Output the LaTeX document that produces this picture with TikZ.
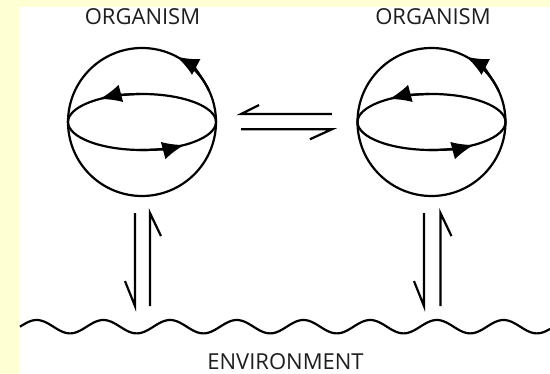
\documentclass[tikz,border=0pt]{standalone}
\usepackage{fontspec}
\setmainfont{Open Sans}
\usetikzlibrary{arrows.meta}
\definecolor{bgyellow}{HTML}{FFFFD4}
\definecolor{txtgray}{HTML}{1E1E1E}
\tikzset{
  ln/.style={line width=2.2pt, black},
  orb/.style={circle, draw, line width=2.2pt, minimum size=148pt, inner sep=0pt},
  lbl/.style={font=\fontsize{22}{24}\selectfont, text=txtgray, inner sep=0pt},
  tip/.style={-{Latex[length=22pt,width=18pt]}}
}
\begin{document}
\begin{tikzpicture}[x=1pt,y=1pt]
\useasboundingbox (0,0) rectangle (550,374);
\fill[bgyellow] (0,0) rectangle (550,374);
\fill[white] (19,0) rectangle (550,367);

% organisms
\foreach \n/\cx in {o1/142, o2/431.5}{
  \node[orb] (\n) at (\cx,252) {};
  \draw[ln] (\n.center) ellipse[x radius=74, y radius=28];
  % back arc arrow (pointing left)
  \draw[ln,tip] (\n.center) ++(92:74 and 28) arc[start angle=92, end angle=125, x radius=74, y radius=28];
  % front arc arrow (pointing right)
  \draw[ln,tip] (\n.center) ++(268:74 and 28) arc[start angle=268, end angle=305, x radius=74, y radius=28];
  % circle arrow (counterclockwise, upper right)
  \draw[ln,tip] (\n.center) ++(25:74) arc[start angle=25, end angle=62, radius=74];
}

\node[lbl] (t1) at (142.5,357.3) {ORGANISM};
\node[lbl] (t2) at (433,357.3) {ORGANISM};
\node[lbl] (env) at (285.5,12.5) {ENVIRONMENT};

% exchange harpoons between organisms
\draw[ln] ([shift={(-24.5,8)}]o2.west) -- ([shift={(24,8)}]o1.east) -- ++(18,9);
\draw[ln] ([shift={(24,-7.3)}]o1.east) -- ([shift={(-24.5,-7.3)}]o2.west) -- ++(-22,-10);

% environment wave
\draw[ln] plot[domain=20:550, samples=240, smooth] (\x,{47.3+6.7*sin((\x-20)/66.7*360)});

% vertical harpoons
\foreach \n/\dl/\dr in {o1/-7/8, o2/-7.5/9}{
  \draw[ln] ([shift={(\dl,-16)}]\n.south) -- ([shift={(\dl,-109)}]\n.south) -- ++(-10,25);
  \draw[ln] ([shift={(\dr,-109)}]\n.south) -- ([shift={(\dr,-16)}]\n.south) -- ++(11,-23);
}
\end{tikzpicture}
\end{document}
